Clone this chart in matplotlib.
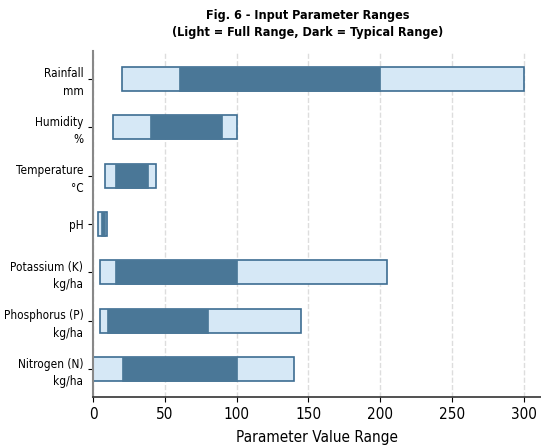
import matplotlib
matplotlib.use("Agg")
import matplotlib.pyplot as plt
from matplotlib import font_manager as fm

# 参数范围（从下到上）
params = ["Nitrogen (N)\nkg/ha", "Phosphorus (P)\nkg/ha", "Potassium (K)\nkg/ha",
          "pH", "Temperature\n°C", "Humidity\n%", "Rainfall\nmm"]
full_min = [0, 5, 5, 3.5, 8, 14, 20]
full_max = [140, 145, 205, 9.9, 44, 100, 300]
typ_min = [20, 10, 15, 5.5, 15, 40, 60]
typ_max = [100, 80, 100, 8, 38, 90, 200]
xticks = [0, 50, 100, 150, 200, 250, 300]


def cond_font(fname, size):
    # 找 DejaVu Sans Condensed 的文件
    for f in fm.fontManager.ttflist:
        if f.fname.endswith(fname):
            return fm.FontProperties(fname=f.fname, size=size)
    return fm.FontProperties(family="DejaVu Sans", stretch="condensed", size=size)


reg = "DejaVuSansCondensed.ttf"
bold = "DejaVuSansCondensed-Bold.ttf"

fig = plt.figure(figsize=(5.41, 4.48), dpi=100)
ax = fig.add_axes([0.172, 0.114, 0.828, 0.772])

y = list(range(len(params)))
full_w = [b - a for a, b in zip(full_min, full_max)]
typ_w = [b - a for a, b in zip(typ_min, typ_max)]

ax.barh(y, full_w, left=full_min, height=0.5, color="#d6e8f6",
        edgecolor="#3d6d92", linewidth=1.2, zorder=2)
ax.barh(y, typ_w, left=typ_min, height=0.5, color="#4a7797",
        edgecolor="#4a7797", linewidth=0.5, zorder=3)

ax.set_yticks(y)
ax.set_yticklabels(params, fontproperties=cond_font(reg, 8.5))
for lab in ax.get_yticklabels():
    lab.set_linespacing(1.45)
ax.set_xlim(0, 312)
ax.set_xticks(xticks)
ax.set_xticklabels([str(v) for v in xticks], fontproperties=cond_font(reg, 11))
ax.set_xlabel("Parameter Value Range", fontproperties=cond_font(reg, 11), labelpad=6)
ax.set_title("Fig. 6 - Input Parameter Ranges\n(Light = Full Range, Dark = Typical Range)",
             fontproperties=cond_font(bold, 9), x=0.48, pad=11, linespacing=1.35)
ax.grid(axis="x", linestyle="--", color="#dddddd", linewidth=1, zorder=0)
ax.spines["top"].set_visible(False)
ax.spines["right"].set_visible(False)
ax.spines["left"].set_color("#888888")
ax.spines["left"].set_linewidth(1.5)
ax.spines["bottom"].set_color("#333333")
ax.spines["bottom"].set_linewidth(1.2)

fig.savefig("out.png", dpi=100)
